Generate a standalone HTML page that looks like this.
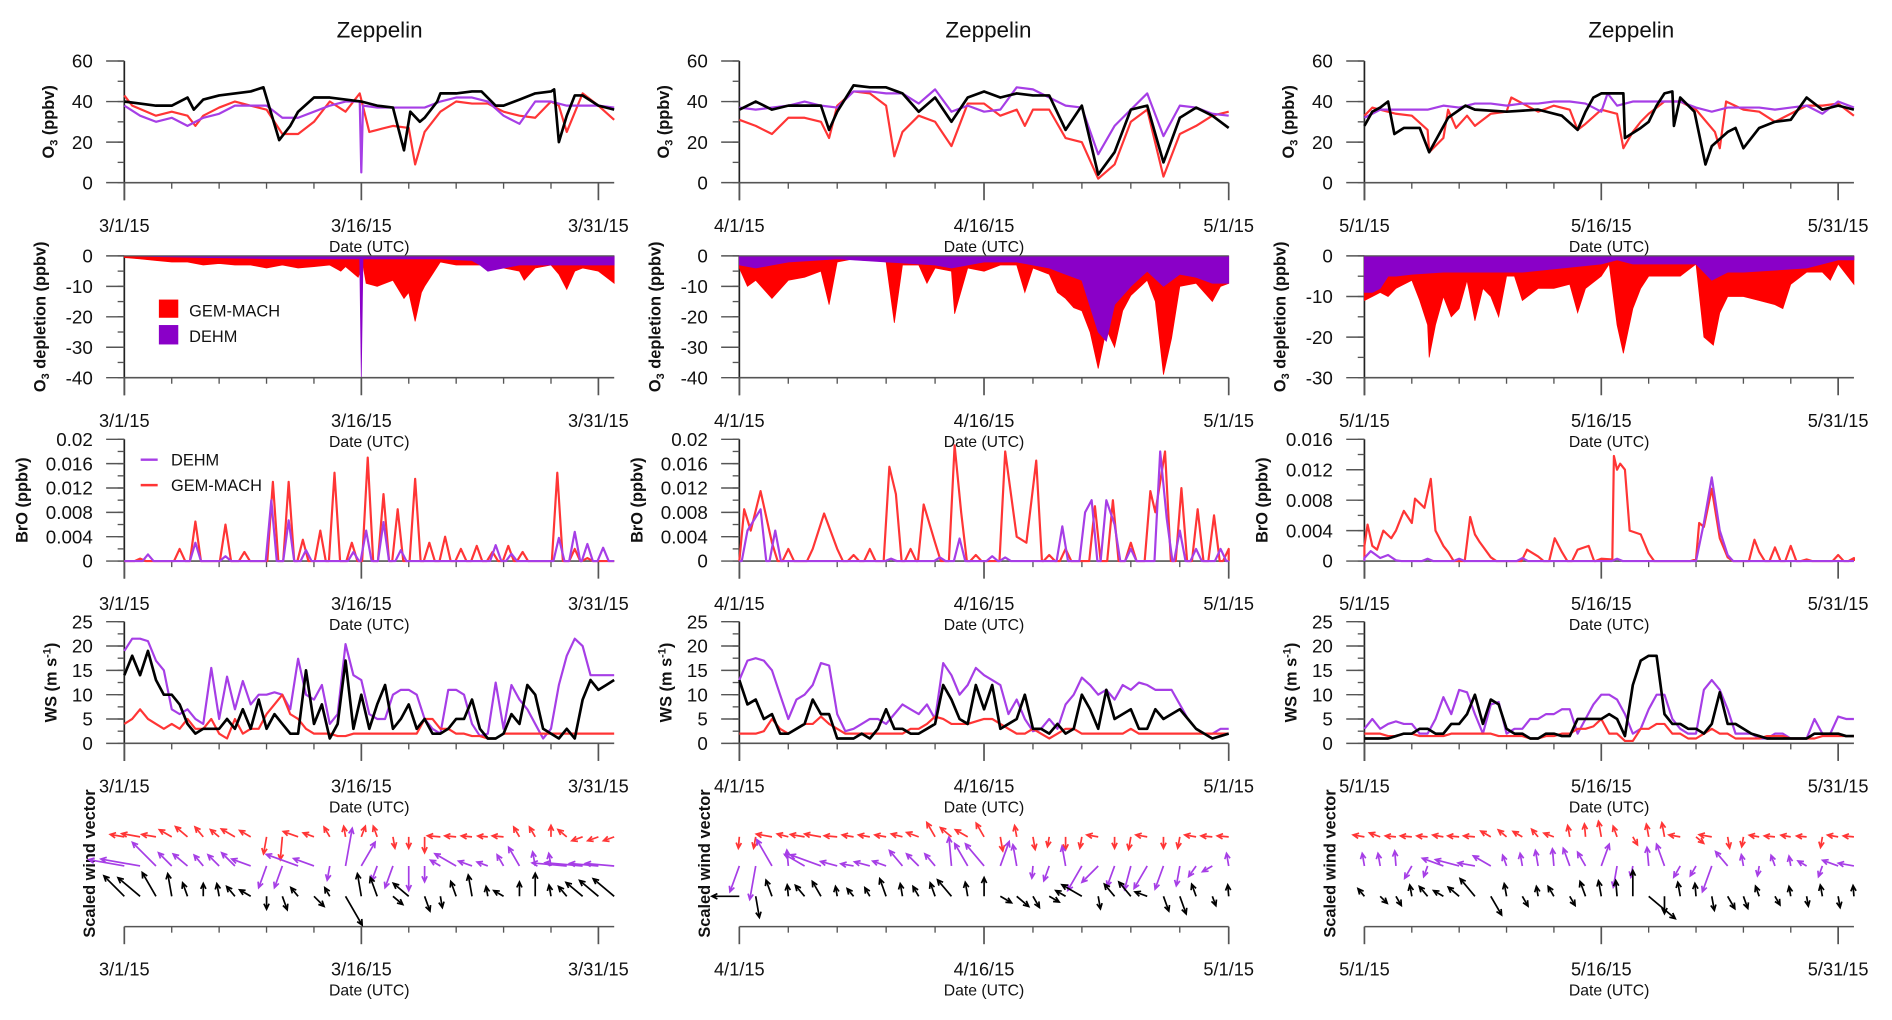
<!DOCTYPE html>
<html><head><meta charset="utf-8"><style>
html,body{margin:0;padding:0;background:#fff;}
svg{display:block;font-family:"Liberation Sans",Arial,sans-serif;}
</style></head><body>
<svg id="fig" width="1892" height="1020" viewBox="0 0 1560 841" preserveAspectRatio="none" xmlns="http://www.w3.org/2000/svg"></svg>
<script>
// ===== Column 1 (March 2015) =====
const c1_o3_obs_t=[0,1,2,3,4,4.4,5,6,7,8,8.8,9.8,10.5,11,12,13,14,15,16,17,17.7,18.1,18.7,19,19.8,20,21,22,22.6,23.5,24,25,26,27,27.2,27.5,28,28.5,29,30,31];
const c1_o3_obs_v=[40,39,38,38,42,36,41,43,44,45,47,21,28,35,42,42,41,40,38,37,16,35,30,32,40,44,44,45,45,38,38,41,44,45,46,20,33,43,43,38,36];
const c1_o3_gem_t=[0,0.5,2,3,4,4.5,5,6,7,8,9,10,11,12,13,14,14.9,15.5,16,17,18,18.4,19,20,21,22,23,24,25,26,27,27.5,28,29,30,31];
const c1_o3_gem_v=[43,38,33,35,33,28,33,37,40,38,36,24,24,30,40,35,44,25,26,28,27,9,25,35,40,39,39,35,33,32,40,38,25,44,38,31];
const c1_o3_dehm_t=[0,1,2,3,4,5,6,7,8,9,10,11,12,13,14,14.9,15,15.1,16,17,18,19,20,21,22,23,24,25,26,27,28,29,30,31];
const c1_o3_dehm_v=[38,33,30,32,28,32,34,38,38,38,32,32,35,38,40,40,5,38,37,37,37,37,40,42,42,40,33,29,40,40,38,38,38,37];
const c1_dep_gem_t=[0,1,2,3,4,5,6,7,8,9,10,11,12,13,13.7,14,14.8,15.1,15.3,16,17,17.7,18,18.4,18.8,19,19.5,20,21,22,23,24,25,25.3,26,27,27.5,28,28.5,29,30,30.5,31];
const c1_dep_gem_v=[-0.5,-1,-1.5,-2,-2,-3,-2.5,-3,-3,-4,-3,-4,-3.5,-3,-5,-3.5,-7,-3,-9,-10,-8,-14,-12,-21.5,-12,-10,-6,-2,-3,-3,-3,-4,-5,-8,-4,-3,-6,-11,-5,-4,-5,-7,-9];
const c1_dep_dehm_t=[0,5,10,14.9,15,15.1,20,22,22.5,23,24,25,26,28,31];
const c1_dep_dehm_v=[0,-0.5,-1,-1,-40,-1,-1,-1.5,-3,-5,-4,-3,-3,-3,-3];
const c1_bro_gem_t=[1,3.5,4.5,6.4,7.6,9.4,10.4,11.3,12.4,13.3,14.4,15.4,16.4,17.3,18.4,19.3,20.3,21.3,22.3,23.3,24.3,25.2,27.4,28.5,29.3];
const c1_bro_gem_v=[0.0004,0.002,0.0065,0.006,0.0015,0.013,0.013,0.0035,0.005,0.0145,0.003,0.017,0.011,0.0085,0.0135,0.003,0.004,0.002,0.0025,0.0015,0.0025,0.0015,0.0145,0.002,0.0005];
const c1_bro_dehm_t=[1.5,4.5,6.4,9.3,10.4,11.5,14.5,15.3,16.4,17.5,23.5,24.5,27.5,28.5,29.3,30.3];
const c1_bro_dehm_v=[0.0011,0.003,0.0008,0.01,0.0067,0.0018,0.0015,0.005,0.0064,0.0018,0.0026,0.0012,0.0038,0.0048,0.0028,0.0022];
const c1_ws_obs=[14,18,14,19,13,10,10,8,4,2,3,3,3,5,3,7,3,9,3,6,4,2,2,15,4,8,1,4,17,3,10,3,8,12,3,5,8,3,5,2,2,3,5,5,9,3,1,1,2,6,4,12,10,3,2,1,3,1,9,13,11,12,13];
const c1_ws_dehm=[19,21.5,21.5,21,17,15,7,6,7,5,4,15.5,5,13.7,7,12.8,8,10,10,10.5,10,7,17.4,10,9,12,4,6,20.4,14,13,6,5,5,10,11,11,10,5,3,2,11,11,10,4,1.5,2,12.5,3,12,9,7,4,1,3,12,18,21.5,20,14,14,14,14];
const c1_ws_gem=[4,5,7,5,4,3,4,3,5,3,3,5,2,1,5,2,3,3,6,8,10,6,5,3,2,2,2,1.5,1.5,2,2,2,2,2,2,2,2,2,5,5,3,3,2,2,1.5,1.5,1,1,2,2,2,2,2,2,2,2,2,2,2,2,2,2,2];
const c1_dir_gem=[170,170,170,150,140,130,140,150,150,-100,-95,160,160,120,100,70,110,-80,-90,-90,175,175,175,175,175,120,120,90,140,200,200,200];
const c1_dir_dehm=[170,170,135,135,140,130,135,135,160,-110,-110,160,160,-100,80,60,-110,-110,-90,-90,150,150,160,160,120,120,100,100,175,175,175,175];
const c1_dir_obs=[135,140,120,100,110,90,100,130,150,-90,-70,130,-45,120,-60,100,110,-40,140,-70,-80,110,100,100,150,90,90,100,130,140,140,140];

// ===== Column 2 (April 2015) =====
const c2_o3_obs_t=[0,1,2,3,4,5,5.5,6,7,8,9,10,11,12,13,14,15,16,17,18,19,20,21,22,23,24,25,26,27,28,29,30];
const c2_o3_obs_v=[36,40,36,38,38,38,26,35,48,47,47,44,35,42,30,42,45,42,44,43,43,26,38,4,15,36,38,10,32,37,33,27];
const c2_o3_gem_t=[0,1,2,3,4,5,5.5,6,7,8,9,9.5,10,11,12,13,14,15,16,17,17.5,18,19,20,21,22,23,24,25,26,27,28,29,30];
const c2_o3_gem_v=[31,28,24,32,32,30,22,38,45,44,38,13,25,33,30,18,39,39,33,36,28,36,36,22,20,2,9,30,36,3,24,28,33,35];
const c2_o3_dehm_v=[37,36,37,38,40,38,37,45,45,44,44,39,46,35,38,35,36,47,46,42,38,37,14,28,36,44,23,38,37,34,33];
const c2_dep_gem_t=[0,0.5,1,2,3,4,5,5.5,6,7,8,9,9.5,10,11,11.5,12,13,13.2,14,15,16,17,17.5,18,19,19.5,20,20.5,21,21.5,22,22.5,23,23.5,24,25,25.5,26,26.5,27,28,29,29.5,30];
const c2_dep_gem_v=[-4,-10,-8,-14,-8,-7,-5,-16,-2,-1,-1,-2,-22,-3,-3,-9,-4,-5,-19,-4,-5,-3,-3,-12,-4,-6,-12,-14,-17,-18,-25,-37,-24,-30,-18,-13,-8,-15,-39,-27,-10,-9,-15,-10,-9];
const c2_dep_dehm_t=[0,1,2,3,6,12,13,14,15,17,18,19,20,21,22,22.5,23,24,25,26,27,28,29,30];
const c2_dep_dehm_v=[-3,-4,-3,-2,-1,-3,-4,-3,-2,-2,-3,-4,-6,-8,-25,-28,-16,-10,-5,-10,-6,-7,-9,-9];
const c2_bro_gem_t=[0.3,0.7,1.3,2,3,4.5,5.2,6,7,8,9.2,9.6,10.5,11.3,12,13.2,13.6,14.5,16.3,17,17.6,18.2,19,20,21.8,22.9,24,25.2,25.5,26.1,27.1,28.1,29.1,30];
const c2_bro_gem_v=[0.0085,0.005,0.0115,0.003,0.002,0.002,0.0078,0.002,0.001,0.002,0.0155,0.011,0.002,0.0093,0.003,0.019,0.008,0.001,0.018,0.004,0.003,0.0165,0.001,0.002,0.009,0.01,0.003,0.0115,0.008,0.018,0.012,0.0085,0.0075,0.002];
const c2_bro_dehm_t=[0.5,1.3,2.2,9.3,12.3,13.5,15.5,16.3,19.8,21.2,21.6,22.5,23,24,25.8,26.2,27,28,29.5];
const c2_bro_dehm_v=[0.005,0.0085,0.005,0.0004,0.0006,0.0037,0.0008,0.0006,0.0057,0.008,0.01,0.01,0.006,0.002,0.018,0.007,0.005,0.002,0.002];
const c2_ws_obs=[13,8,9,5,6,2,2,3,4,9,6,6,1,1,1,2,1,3,7,3,3,2,2,3,4,12,9,5,4,12,7,12,3,4,5,10,3,3,2,4,2,3,10,7,3,11,5,6,7,3,3,7,5,6,7,5,3,2,1,1.5,2];
const c2_ws_dehm=[13,17,17.5,17,15,10,5,9,10,12,16.5,16,6,2.5,3,4,5,5,4,6,8,7,6,8,5,16.5,14,10,12,15.5,14,13,12,6,9,5,2.5,3,5,3,8,10,13.5,12,10,11,9,12,11,12.5,12,11,11,11,8,5,3,2,2,3,3];
const c2_ws_gem=[2,2,2,2.5,5,3,2,3,4,4,5.5,4,3,2,2,2,2,2,2,2,2,3,3,4,5.5,5,4,4,4,4.5,5,5,4,3,2,2,3,2,1,2,3,3,2,2,2,2,2,2,3,2,2,2,2,2,2,2,2,2,2,2,2];
const c2_dir_gem=[-95,-100,170,165,170,170,175,170,170,170,165,160,120,140,150,120,-80,100,-80,-100,-90,-100,170,-90,-100,170,-90,-100,170,175,175];
const c2_dir_dehm=[-110,-100,120,95,150,160,165,170,165,160,130,135,130,95,120,130,70,100,-95,-110,100,-120,-135,-110,-105,-120,-110,-100,-125,-150,100];
const c2_dir_obs=[180,-80,110,95,130,120,100,130,120,110,100,120,110,130,100,90,-30,-40,-60,-30,150,150,-80,130,130,160,-70,-70,110,-70,95];

// ===== Column 3 (May 2015) =====
const c3_o3_obs_t=[0,0.5,1,1.5,1.9,2.5,3.5,4.1,5.3,6.4,7,9,11,12.5,13.5,14,14.5,15,16.4,16.5,17.5,18,18.5,19,19.5,19.6,20,20.9,21.6,22,23,23.5,24,25,26,27,28,29,30,31];
const c3_o3_obs_v=[28,35,37,40,24,27,27,15,32,38,36,35,36,33,26,35,42,44,44,22,27,30,38,44,45,28,42,35,9,18,25,27,17,27,30,31,42,36,38,36];
const c3_o3_gem_t=[0,0.5,1,2,3,4,4.1,5,5.3,5.8,6.5,7,8,9,9.3,11,12,13,13.5,14,15,16,16.4,17,17.5,18,19,20,21,22.2,22.5,22.9,24,25,26,27,28,29,30,31];
const c3_o3_gem_v=[33,37,36,34,33,26,15,22,36,27,33,28,34,35,42,35,38,36,26,29,36,34,17,25,30,34,40,40,36,25,17,40,36,35,30,34,38,38,39,33];
const c3_o3_dehm_t=[0,0.5,1,2,3,4,5,6,7,8,9,10,11,12,13,14,15,15.4,16,17,18,19,20,21,22,23,24,25,26,27,28,29,30,31];
const c3_o3_dehm_v=[32,34,36,36,36,36,38,37,39,39,38,39,39,40,40,39,35,44,38,40,40,40,40,37,35,37,37,37,36,37,38,34,40,37];
const c3_dep_gem_t=[0,0.5,1,1.5,2,3,3.5,4,4.1,4.5,5,5.5,6,6.5,7,7.5,8,8.5,9,9.5,10,11,12,13,13.5,14,15,15.5,16,16.4,17,17.5,18,19,20,21,21.5,22.1,22.5,23,24,25,26,26.5,27,28,29,29.5,30,31];
const c3_dep_gem_v=[-11,-10,-9,-10,-8,-6,-11,-17,-25,-17,-10,-15,-13,-6,-16,-8,-10,-15,-5,-5,-11,-8,-8,-7,-14,-8,-5,-2,-17,-24,-13,-8,-5,-5,-5,-2,-20,-22,-14,-10,-10,-11,-12,-13,-7,-4,-4,-6,-2,-7];
const c3_dep_dehm_t=[0,0.5,1,1.5,2,3,5,10,15,16,17,20,21,22,22.5,23,24,28,29,30,31];
const c3_dep_dehm_v=[-9,-9,-8,-5,-5,-4.5,-4,-4,-2,-1,-2,-2,-2,-6,-5,-4,-4,-3,-2,-1,-1];
const c3_bro_gem_t=[0,0.2,0.5,0.8,1.2,1.7,2,2.5,3,3.2,3.8,4.2,4.5,5,5.3,6.7,7,7.3,8,10.3,11,12.05,12.5,13.5,14.2,15,15.7,15.8,16,16.2,16.5,16.8,17.5,18,21,21.2,21.5,22,22.5,23,24.7,25,26,27,28,30,31];
const c3_bro_gem_v=[0.002,0.0048,0.002,0.0015,0.004,0.003,0.004,0.0066,0.005,0.0082,0.007,0.0108,0.004,0.002,0.0012,0.0058,0.0035,0.0025,0.0005,0.0015,0.0006,0.003,0.0012,0.0015,0.002,0.0003,0.0002,0.0138,0.012,0.0128,0.012,0.004,0.0035,0.001,0.0002,0.005,0.0045,0.0095,0.003,0.0005,0.0028,0.0012,0.0018,0.002,0.0002,0.0008,0.0004];
const c3_bro_dehm_t=[0,0.4,1,1.5,2,4,6,10,15,16,21,21.5,22,22.5,23,24,31];
const c3_bro_dehm_v=[0.0004,0.0013,0.0004,0.0008,0.0001,0.0003,0.0003,0.0004,0,0.0003,0,0.005,0.011,0.004,0.0008,0,0];
const c3_ws_obs=[1,1,1,1,1.5,2,2,3,3,2,2,4,4,6,10,4,9,8,3,2,2,1,1,2,2,1.5,1.5,5,5,5,5,6,5,1.5,12,17,18,18,6,4,4,3,3,2,4,10.5,4,4,3,2,1.5,1,1,1,1,1,1,2,2,2,2,1.5,1.5];
const c3_ws_dehm=[3,5,3,4,4.5,4,4,2,2,5,9.5,6,11,10.5,6,2,8,8.5,2,3,3,5,5,6,6,7,7,2,5,8,10,10,9,6,2,3,7,10,10,5,3,2,2,11,13,11,7,2,2,2,1,1,2,2,1,1,1,5,2,2,5.5,5,5];
const c3_ws_gem=[2,2,2,1.5,1.5,2,2,1.5,1.5,1.5,1.5,2,2,2,2,2,2,1.5,1.5,1.5,1.5,1,1,1.5,1.5,2,2,3,3,3.5,5,2,2,0.5,0.5,3,3,4,4,2,2,1,1,2,3,2,2,1,1,1,1,1.5,1.5,1.5,1,1,1,1,1.5,1.5,1.5,1.5,1.5];
const c3_dir_gem=[170,160,175,175,175,170,175,175,150,140,150,130,160,100,95,100,110,-60,100,100,170,-40,170,-80,-100,170,175,170,175,-100,170,175];
const c3_dir_dehm=[100,100,95,-120,-110,160,165,170,150,110,100,100,95,110,120,70,-100,-100,95,110,-120,-120,-110,130,100,-100,110,100,150,-110,160,170];
const c3_dir_obs=[130,-45,-60,100,130,150,140,130,-60,100,-60,100,120,-60,110,100,95,90,-40,-90,100,95,-80,-60,-70,110,-60,100,-80,100,-80,95];

// ===== Axes definitions (tick labels) =====
const dateLabels=[['3/1/15','3/16/15','3/31/15'],['4/1/15','4/16/15','5/1/15'],['5/1/15','5/16/15','5/31/15']];
const o3Ticks=[0,20,40,60];
const depTicks12=[0,-10,-20,-30,-40];
const depTicks3=[0,-10,-20,-30];
const broTicks12=[0,0.004,0.008,0.012,0.016,0.02];
const broTicks3=[0,0.004,0.008,0.012,0.016];
const wsTicks=[0,5,10,15,20,25];

const NS='http://www.w3.org/2000/svg';
const svg=document.getElementById('fig');
function mk(tag,attrs,parent){const e=document.createElementNS(NS,tag);for(const k in attrs)e.setAttribute(k,attrs[k]);(parent||svg).appendChild(e);return e;}
const RED='#ff3535',PUR='#a63ee6',BLK='#000',REDF='#ff0000',PURF='#8a00c8',AX='#555';

const COLS=[{x0:102.5,dw:13.03,end:31},{x0:609.6,dw:13.45,end:30},{x0:1125,dw:13.02,end:31}];
const ROWS=[{top:50.3,bot:150.6},{top:211,bot:311.4},{top:362.2,bot:462.6},{top:512.6,bot:612.9}];
const titleX=[313,815,1345];

function uni(v,step){return v.map((_,i)=>i*step);}
function interp(t,v,x){if(x<=t[0])return v[0];for(let i=1;i<t.length;i++){if(x<=t[i]){const f=(x-t[i-1])/(t[i]-t[i-1]);return v[i-1]+f*(v[i]-v[i-1]);}}return v[v.length-1];}

function drawCol(ci,d){
  const C=COLS[ci];
  const g=mk('g',{});
  
  
  const X=t=>C.x0+t*C.dw;
  const xEnd=X(C.end);
  const t0=mk('text',{x:titleX[ci],y:31,'font-size':18.5,'text-anchor':'middle',fill:'#111'},g);
  t0.textContent='Zeppelin';
  
  

  function xAxis(yA,parent){
    mk('line',{x1:C.x0,y1:yA,x2:xEnd,y2:yA,stroke:AX,'stroke-width':1.3},parent);
    for(let k=0;k<=30;k+=3){
      const major=(k%15===0);
      mk('line',{x1:X(k),y1:yA,x2:X(k),y2:yA+(major?14.5:5),stroke:AX,'stroke-width':major?1.4:1.1},parent);
    }
    dateLabels[ci].forEach((s,i)=>{
      const tx=mk('text',{x:X(i*15),y:yA+40.5,'font-size':15,'text-anchor':'middle',fill:'#111'},parent);
      tx.textContent=s;
      
      
    });
    const dl=mk('text',{x:(C.x0+xEnd)/2,y:yA+57,'font-size':13,'text-anchor':'middle',fill:'#111'},parent);
    dl.textContent='Date (UTC)';
    
    
  }
  function yAxis(R,ymin,ymax,ticks,minorStep,fmt,parent){
    const Y=v=>R.bot-(v-ymin)/(ymax-ymin)*(R.bot-R.top);
    mk('line',{x1:C.x0,y1:R.top,x2:C.x0,y2:R.bot+14.5,stroke:'#222','stroke-width':1.4},parent);
    for(let v=ymin;v<=ymax+1e-9;v+=minorStep){
      mk('line',{x1:C.x0-5.5,y1:Y(v),x2:C.x0,y2:Y(v),stroke:AX,'stroke-width':1.1},parent);
    }
    ticks.forEach(v=>{
      mk('line',{x1:C.x0-15,y1:Y(v),x2:C.x0,y2:Y(v),stroke:AX,'stroke-width':1.2},parent);
      const tx=mk('text',{x:C.x0-26,y:Y(v)+5.5,'font-size':15.5,'text-anchor':'end',fill:'#111'},parent);
      tx.textContent=fmt(v);
      
      
    });
    return Y;
  }
  function yTitle(cx,cy,parts,name,parent){
    const tx=mk('text',{transform:`translate(${cx},${cy}) rotate(-90)`,'font-size':13.5,'font-weight':'bold','text-anchor':'middle',fill:'#111'},parent);
    
    
    parts.forEach(p=>{const s=mk('tspan',p.sub?{'font-size':9,dy:3}:p.sup?{'font-size':9,dy:-5}:p.back?{dy:p.back}:{},tx);s.textContent=p.s;});
  }
  function line(t,v,Y,color,w,name,parent){
    const pts=t.map((tt,i)=>X(tt).toFixed(1)+','+Y(v[i]).toFixed(1)).join(' ');
    const p=mk('polyline',{points:pts,fill:'none',stroke:color,'stroke-width':w,'stroke-linejoin':'round'},parent);
    
    
  }
  function area(t,v,Y,color,name,parent){
    let pts=X(t[0]).toFixed(1)+','+Y(0).toFixed(1)+' ';
    pts+=t.map((tt,i)=>X(tt).toFixed(1)+','+Y(v[i]).toFixed(1)).join(' ');
    pts+=' '+X(t[t.length-1]).toFixed(1)+','+Y(0).toFixed(1);
    const p=mk('polygon',{points:pts,fill:color,stroke:color,'stroke-width':0.6},parent);
    
    
  }
  function spikes(t,v,Y,color,name,parent){
    const T=[0],V=[0];const hw=0.35;
    t.forEach((tt,i)=>{
      const prevGap=i===0?99:tt-t[i-1];
      if(prevGap>0.8){T.push(tt-hw);V.push(0);}
      T.push(tt);V.push(v[i]);
      const nextGap=i===t.length-1?99:t[i+1]-tt;
      if(nextGap>0.8){T.push(tt+hw);V.push(0);}
    });
    T.push(C.end);V.push(0);
    const pts=T.map((tt,i)=>X(Math.max(0,Math.min(C.end,tt))).toFixed(1)+','+Y(V[i]).toFixed(1)).join(' ');
    const p=mk('polyline',{points:pts,fill:'none',stroke:color,'stroke-width':1.8,'stroke-linejoin':'round'},parent);
    
    
  }

  const g1=mk('g',{},g);
  const R1=ROWS[0];
  const Y1=yAxis(R1,0,60,o3Ticks,10,v=>String(v),g1);
  xAxis(R1.bot,g1);
  yTitle(C.x0-58,(R1.top+R1.bot)/2,[{s:'O'},{s:'3',sub:true},{s:' (ppbv)',back:-3}],'y-axis-title-o3',g1);
  line(d.o3_gem_t,d.o3_gem_v,Y1,RED,1.8,'o3-gem-mach-line',g1);
  line(d.o3_dehm_t,d.o3_dehm_v,Y1,PUR,1.8,'o3-dehm-line',g1);
  line(d.o3_obs_t,d.o3_obs_v,Y1,BLK,2.2,'o3-observed-line',g1);

  const g2=mk('g',{},g);
  const R2=ROWS[1];
  const depMin=ci===2?-30:-40;
  const Y2=yAxis(R2,depMin,0,ci===2?depTicks3:depTicks12,5,v=>String(v),g2);
  area(d.dep_gem_t,d.dep_gem_v,Y2,REDF,'depletion-gem-mach-area',g2);
  area(d.dep_dehm_t,d.dep_dehm_v,Y2,PURF,'depletion-dehm-area',g2);
  xAxis(R2.bot,g2);
  mk('line',{x1:C.x0,y1:Y2(0),x2:xEnd,y2:Y2(0),stroke:AX,'stroke-width':1},g2);
  yTitle(C.x0-65,(R2.top+R2.bot)/2,[{s:'O'},{s:'3',sub:true},{s:' depletion (ppbv)',back:-3}],'y-axis-title-depletion',g2);

  const g3=mk('g',{},g);
  const R3=ROWS[2];
  const broMax=ci===2?0.016:0.02;
  const Y3=yAxis(R3,0,broMax,ci===2?broTicks3:broTicks12,0.002,v=>v===0?'0':(Math.round(v*1000)/1000).toString(),g3);
  xAxis(R3.bot,g3);
  yTitle(C.x0-80,(R3.top+R3.bot)/2,[{s:'BrO (ppbv)'}],'y-axis-title-bro',g3);
  spikes(d.bro_gem_t,d.bro_gem_v,Y3,RED,'bro-gem-mach-line',g3);
  spikes(d.bro_dehm_t,d.bro_dehm_v,Y3,PUR,'bro-dehm-line',g3);

  const g4=mk('g',{},g);
  const R4=ROWS[3];
  const Y4=yAxis(R4,0,25,wsTicks,2.5,v=>String(v),g4);
  xAxis(R4.bot,g4);
  yTitle(C.x0-56,(R4.top+R4.bot)/2,[{s:'WS (m s'},{s:'-1',sup:true},{s:')',back:5}],'y-axis-title-ws',g4);
  const wsT=v=>uni(v,C.end/(v.length-1));
  line(wsT(d.ws_dehm),d.ws_dehm,Y4,PUR,1.8,'ws-dehm-line',g4);
  line(wsT(d.ws_gem),d.ws_gem,Y4,RED,1.8,'ws-gem-mach-line',g4);
  line(wsT(d.ws_obs),d.ws_obs,Y4,BLK,2.2,'ws-observed-line',g4);

  const g5=mk('g',{},g);
  xAxis(764,g5);
  yTitle(C.x0-24,712,[{s:'Scaled wind vector'}],'y-axis-title-wind-vector',g5);
  const rowsV=[[d.dir_gem,d.ws_gem,690,RED,'wind-arrow-gem-mach'],[d.dir_dehm,d.ws_dehm,714,PUR,'wind-arrow-dehm'],[d.dir_obs,d.ws_obs,739,BLK,'wind-arrow-observed']];
  rowsV.forEach(([dirs,ws,by,col,nm])=>{
    const wt=wsT(ws);
    dirs.forEach((ang,i)=>{
      const t=i; if(t>C.end) return;
      const sp=interp(wt,ws,t);
      const L=7+1.2*sp;
      const a=ang*Math.PI/180;
      const x1=X(t),y1=by,x2=x1+L*Math.cos(a),y2=by-L*Math.sin(a);
      const h=5,ha=0.45;
      const hx1=x2-h*Math.cos(a-ha),hy1=y2+h*Math.sin(a-ha);
      const hx2=x2-h*Math.cos(a+ha),hy2=y2+h*Math.sin(a+ha);
      const p=mk('path',{d:`M${x1.toFixed(1)},${y1.toFixed(1)}L${x2.toFixed(1)},${y2.toFixed(1)}M${hx1.toFixed(1)},${hy1.toFixed(1)}L${x2.toFixed(1)},${y2.toFixed(1)}L${hx2.toFixed(1)},${hy2.toFixed(1)}`,fill:'none',stroke:col,'stroke-width':1.4},g5);
      
      
    });
  });
}

drawCol(0,{o3_obs_t:c1_o3_obs_t,o3_obs_v:c1_o3_obs_v,o3_gem_t:c1_o3_gem_t,o3_gem_v:c1_o3_gem_v,o3_dehm_t:c1_o3_dehm_t,o3_dehm_v:c1_o3_dehm_v,
  dep_gem_t:c1_dep_gem_t,dep_gem_v:c1_dep_gem_v,dep_dehm_t:c1_dep_dehm_t,dep_dehm_v:c1_dep_dehm_v,
  bro_gem_t:c1_bro_gem_t,bro_gem_v:c1_bro_gem_v,bro_dehm_t:c1_bro_dehm_t,bro_dehm_v:c1_bro_dehm_v,
  ws_obs:c1_ws_obs,ws_dehm:c1_ws_dehm,ws_gem:c1_ws_gem,dir_gem:c1_dir_gem,dir_dehm:c1_dir_dehm,dir_obs:c1_dir_obs});
drawCol(1,{o3_obs_t:c2_o3_obs_t,o3_obs_v:c2_o3_obs_v,o3_gem_t:c2_o3_gem_t,o3_gem_v:c2_o3_gem_v,o3_dehm_t:uni(c2_o3_dehm_v,1),o3_dehm_v:c2_o3_dehm_v,
  dep_gem_t:c2_dep_gem_t,dep_gem_v:c2_dep_gem_v,dep_dehm_t:c2_dep_dehm_t,dep_dehm_v:c2_dep_dehm_v,
  bro_gem_t:c2_bro_gem_t,bro_gem_v:c2_bro_gem_v,bro_dehm_t:c2_bro_dehm_t,bro_dehm_v:c2_bro_dehm_v,
  ws_obs:c2_ws_obs,ws_dehm:c2_ws_dehm,ws_gem:c2_ws_gem,dir_gem:c2_dir_gem,dir_dehm:c2_dir_dehm,dir_obs:c2_dir_obs});
drawCol(2,{o3_obs_t:c3_o3_obs_t,o3_obs_v:c3_o3_obs_v,o3_gem_t:c3_o3_gem_t,o3_gem_v:c3_o3_gem_v,o3_dehm_t:c3_o3_dehm_t,o3_dehm_v:c3_o3_dehm_v,
  dep_gem_t:c3_dep_gem_t,dep_gem_v:c3_dep_gem_v,dep_dehm_t:c3_dep_dehm_t,dep_dehm_v:c3_dep_dehm_v,
  bro_gem_t:c3_bro_gem_t,bro_gem_v:c3_bro_gem_v,bro_dehm_t:c3_bro_dehm_t,bro_dehm_v:c3_bro_dehm_v,
  ws_obs:c3_ws_obs,ws_dehm:c3_ws_dehm,ws_gem:c3_ws_gem,dir_gem:c3_dir_gem,dir_dehm:c3_dir_dehm,dir_obs:c3_dir_obs});

const lg1=mk('g',{});


mk('rect',{x:131,y:247,width:16,height:15,fill:REDF},lg1);
mk('rect',{x:131,y:268,width:16,height:16,fill:PURF},lg1);
let lt=mk('text',{x:156,y:261,'font-size':13.5,fill:'#111'},lg1);lt.textContent='GEM-MACH';


lt=mk('text',{x:156,y:282,'font-size':13.5,fill:'#111'},lg1);lt.textContent='DEHM';


const lg2=mk('g',{});


mk('line',{x1:116,y1:379,x2:130,y2:379,stroke:PUR,'stroke-width':2},lg2);
mk('line',{x1:116,y1:400,x2:130,y2:400,stroke:RED,'stroke-width':2},lg2);
lt=mk('text',{x:141,y:384,'font-size':13.5,fill:'#111'},lg2);lt.textContent='DEHM';


lt=mk('text',{x:141,y:405,'font-size':13.5,fill:'#111'},lg2);lt.textContent='GEM-MACH';


</script>
</body></html>
